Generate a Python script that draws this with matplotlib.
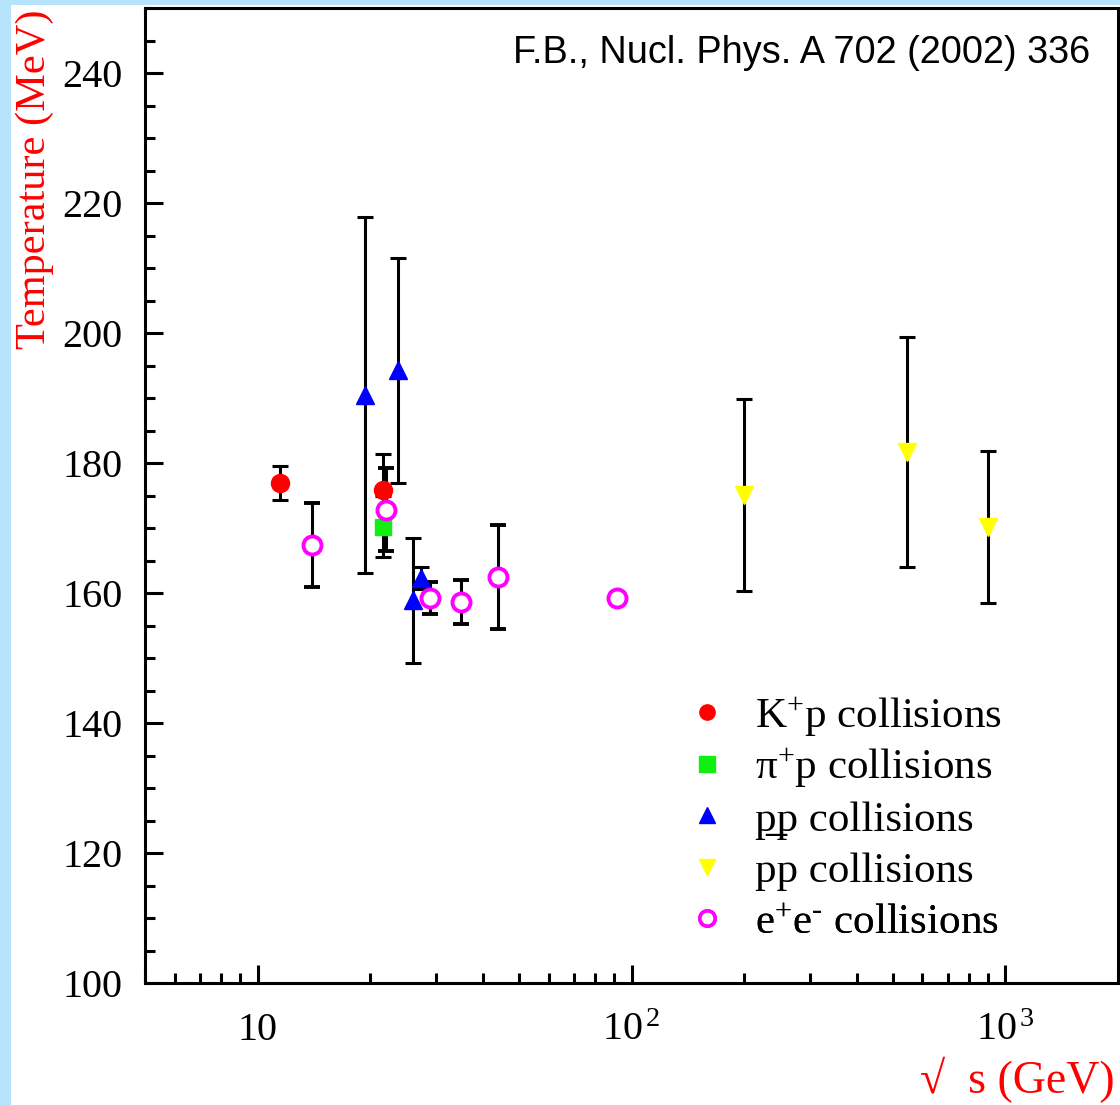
import matplotlib
matplotlib.use("Agg")
import matplotlib.pyplot as plt
from matplotlib.lines import Line2D
from matplotlib.patches import Rectangle
import matplotlib.ticker as mticker

plt.rcParams['mathtext.fontset'] = 'custom'
plt.rcParams['mathtext.rm'] = 'Liberation Serif'
plt.rcParams['mathtext.it'] = 'Liberation Serif:italic'
plt.rcParams['mathtext.bf'] = 'Liberation Serif:bold'
SERIF = ['Liberation Serif', 'DejaVu Serif']

# ---------------- data ----------------
kp_s = [11.5, 21.7]
kp_T = [176.9, 175.8]
kp_err = [2.6, 5.6]

pip_s = [21.7]
pip_T = [170.2]
pip_err = [4.7]

pp_s = [19.4, 23.8, 26.0, 27.4]
pp_T = [190.5, 194.3, 158.9, 162.3]
pp_err = [27.4, 17.3, 9.6, 1.7]

ppbar_s = [200, 546, 900]
ppbar_T = [175.1, 181.7, 170.2]
ppbar_err = [14.8, 17.7, 11.7]

ee_s = [14, 22, 29, 35, 44, 91.2]
ee_T = [167.4, 172.8, 159.2, 158.6, 162.5, 159.2]
ee_err = [6.4, 6.4, 2.5, 3.4, 8.0, 0.8]

legend_labels = [r"K$^{+}$p collisions", r"π$^{+}$p collisions",
                 "p\u0332p collisions", "pp collisions",
                 "e$^{+}$e$^{\u2010}$ collisions"]
xtick_vals = [10, 100, 1000]
xtick_labels = ["10", r"$10^{\,2}$", r"$10^{\,3}$"]
ytick_vals = [100, 120, 140, 160, 180, 200, 220, 240]
ref_text = "F.B., Nucl. Phys. A 702 (2002) 336"

# ---------------- figure ----------------
W, H = 1120, 1105
fig = plt.figure(figsize=(W / 100, H / 100), dpi=100)
fig.patch.set_facecolor('#b6e4fd')
bg = Rectangle((11 / W, 0), 1 - 11 / W, 1 - 5 / H,
               transform=fig.transFigure, facecolor='white',
               edgecolor='none', zorder=-10)
fig.add_artist(bg)

AX_L, AX_R, AX_T, AX_B = 145, 1118, 8, 983
ax = fig.add_axes([AX_L / W, 1 - AX_B / H, (AX_R - AX_L) / W, (AX_B - AX_T) / H])
ax.set_zorder(1)
ax.set_facecolor('white')
ax.set_xscale('log')
ax.set_xlim(5, 2000)
ax.set_ylim(100, 250)

ekw = dict(ecolor='black', elinewidth=2.2, capsize=6, capthick=2.2, linestyle='none')
ax.errorbar(kp_s, kp_T, yerr=kp_err, marker='o', ms=13, mfc='#ff0000', mec='#ff0000', **ekw)
ax.errorbar(pip_s, pip_T, yerr=pip_err, marker='s', ms=12, mfc='#11ee11', mec='#11ee11', **ekw)
ax.errorbar(pp_s, pp_T, yerr=pp_err, marker='^', ms=13, mfc='#0000ff', mec='#0000ff', **ekw)
ax.errorbar(ppbar_s, ppbar_T, yerr=ppbar_err, marker='v', ms=13, mfc='#ffff00', mec='#ffff00', **ekw)
ax.errorbar(ee_s, ee_T, yerr=ee_err, marker='o', ms=13, mfc='white', mec='#ff00ff', mew=2.8, **ekw)

# ticks
ax.set_xticks(xtick_vals)
ax.set_xticklabels(xtick_labels)
ax.xaxis.set_minor_locator(mticker.LogLocator(base=10, subs=range(2, 10), numticks=20))
ax.xaxis.set_minor_formatter(mticker.NullFormatter())
ax.set_yticks(ytick_vals)
ax.yaxis.set_minor_locator(mticker.MultipleLocator(5))
ax.tick_params(which='both', direction='in', top=False, right=False, width=2.2, color='black')
ax.tick_params(which='major', length=13)
ax.tick_params(which='minor', length=7)
ax.tick_params(axis='x', which='major', pad=21, labelsize=29)
ax.tick_params(axis='y', which='major', pad=16, labelsize=29)
for lab in ax.get_xticklabels() + ax.get_yticklabels():
    lab.set_fontfamily(SERIF)
for sp in ax.spines.values():
    sp.set_linewidth(2.2)
    sp.set_color('black')

# reference text
ax.text((1090 - AX_L) / (AX_R - AX_L), (AX_B - 63) / (AX_B - AX_T), ref_text,
        transform=ax.transAxes, ha='right', va='baseline', fontsize=27.3,
        family=['Liberation Sans', 'DejaVu Sans'])

# legend: one single-entry legend per row, evenly spaced
handles = [
    Line2D([], [], ls='none', marker='o', ms=11, mfc='#ff0000', mec='#ff0000'),
    Line2D([], [], ls='none', marker='s', ms=11, mfc='#11ee11', mec='#11ee11'),
    Line2D([], [], ls='none', marker='^', ms=11, mfc='#0000ff', mec='#0000ff'),
    Line2D([], [], ls='none', marker='v', ms=11, mfc='#ffff00', mec='#ffff00'),
    Line2D([], [], ls='none', marker='o', ms=11, mfc='white', mec='#ff00ff', mew=2.6),
]
row0, row_step = 717, 51.5
for i, (h, lab) in enumerate(zip(handles, legend_labels)):
    yc = row0 + i * row_step
    lg = ax.legend([h], [lab], loc='center left',
                   bbox_to_anchor=((690 - AX_L) / (AX_R - AX_L), (AX_B - yc) / (AX_B - AX_T)),
                   frameon=False, numpoints=1, handlelength=0.8, handletextpad=0.7,
                   borderaxespad=0, borderpad=0,
                   prop={'family': SERIF, 'size': 31})
    ax.add_artist(lg)

# axis labels
fig.text(35 / W, 1 - 179 / H, 'Temperature (MeV)', rotation=90, ha='center', va='center',
         color='red', fontsize=30.5, family=SERIF)
fig.text(1115 / W, 1 - 1093 / H, '√  s (GeV)', ha='right', va='baseline',
         color='red', fontsize=33, family=SERIF)

fig.savefig('out.png', dpi=100, facecolor=fig.get_facecolor())
